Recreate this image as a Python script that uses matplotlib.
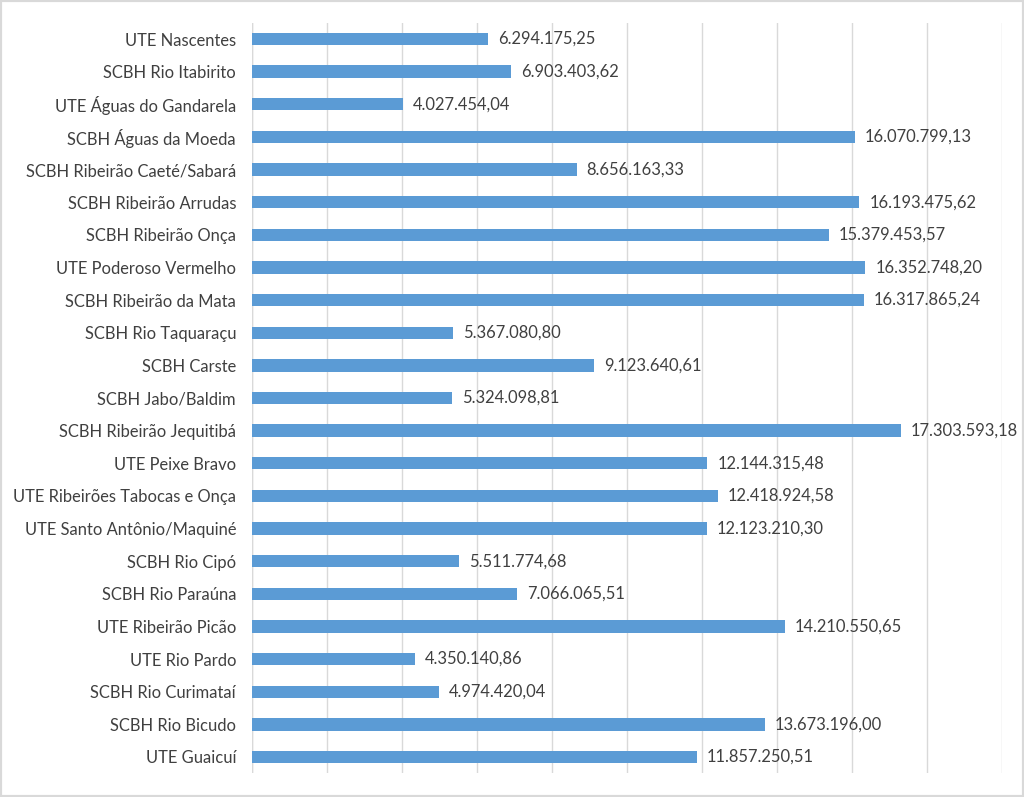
import matplotlib
matplotlib.use("Agg")
import matplotlib.pyplot as plt
from matplotlib.patches import Rectangle

categories = [
    "UTE Nascentes", "SCBH Rio Itabirito", "UTE Águas do Gandarela", "SCBH Águas da Moeda",
    "SCBH Ribeirão Caeté/Sabará", "SCBH Ribeirão Arrudas", "SCBH Ribeirão Onça",
    "UTE Poderoso Vermelho", "SCBH Ribeirão da Mata", "SCBH Rio Taquaraçu", "SCBH Carste",
    "SCBH Jabo/Baldim", "SCBH Ribeirão Jequitibá", "UTE Peixe Bravo",
    "UTE Ribeirões Tabocas e Onça", "UTE Santo Antônio/Maquiné", "SCBH Rio Cipó",
    "SCBH Rio Paraúna", "UTE Ribeirão Picão", "UTE Rio Pardo", "SCBH Rio Curimataí",
    "SCBH Rio Bicudo", "UTE Guaicuí",
]
values = [
    6294175.25, 6903403.62, 4027454.04, 16070799.13, 8656163.33, 16193475.62, 15379453.57,
    16352748.20, 16317865.24, 5367080.80, 9123640.61, 5324098.81, 17303593.18, 12144315.48,
    12418924.58, 12123210.30, 5511774.68, 7066065.51, 14210550.65, 4350140.86, 4974420.04,
    13673196.00, 11857250.51,
]
value_labels = [
    "6.294.175,25", "6.903.403,62", "4.027.454,04", "16.070.799,13", "8.656.163,33",
    "16.193.475,62", "15.379.453,57", "16.352.748,20", "16.317.865,24", "5.367.080,80",
    "9.123.640,61", "5.324.098,81", "17.303.593,18", "12.144.315,48", "12.418.924,58",
    "12.123.210,30", "5.511.774,68", "7.066.065,51", "14.210.550,65", "4.350.140,86",
    "4.974.420,04", "13.673.196,00", "11.857.250,51",
]
x_ticks = list(range(0, 20000001, 2000000))

plt.rcParams['font.family'] = ['Lato', 'DejaVu Sans']
W, H = 1024, 797
fig = plt.figure(figsize=(W / 100, H / 100), dpi=100)
fig.patch.set_facecolor("white")
fig.patches.append(Rectangle((0, 0), 1, 1, transform=fig.transFigure, fill=False,
                             edgecolor="#d9d9d9", linewidth=3))

left, right, top, bottom = 252, 1002, 22.7, 773.3
ax = fig.add_axes([left / W, 1 - bottom / H, (right - left) / W, (bottom - top) / H])
n = len(categories)
ypos = list(range(n))
ax.barh(ypos, values, height=0.38, color="#5B9BD5", zorder=3)
ax.set_xlim(0, 20000000)
ax.set_ylim(n - 0.5, -0.5)
ax.set_xticks(x_ticks)
ax.set_xticklabels([])
ax.tick_params(axis="x", length=0)
ax.tick_params(axis="y", length=0, pad=11.5, labelsize=11.9, labelcolor="#404040")
ax.set_yticks(ypos)
ax.set_yticklabels(categories)
ax.grid(axis="x", color="#d9d9d9", linewidth=1, zorder=0)
for s in ax.spines.values():
    s.set_visible(False)
ax.axvline(0, color="#d9d9d9", linewidth=1, zorder=1)
for y, v, lab in zip(ypos, values, value_labels):
    ax.annotate(lab, (v, y), xytext=(10, 0), textcoords="offset pixels",
                va="center", ha="left", fontsize=11.9, color="#404040")

fig.savefig("out.png", dpi=100, facecolor="white")
